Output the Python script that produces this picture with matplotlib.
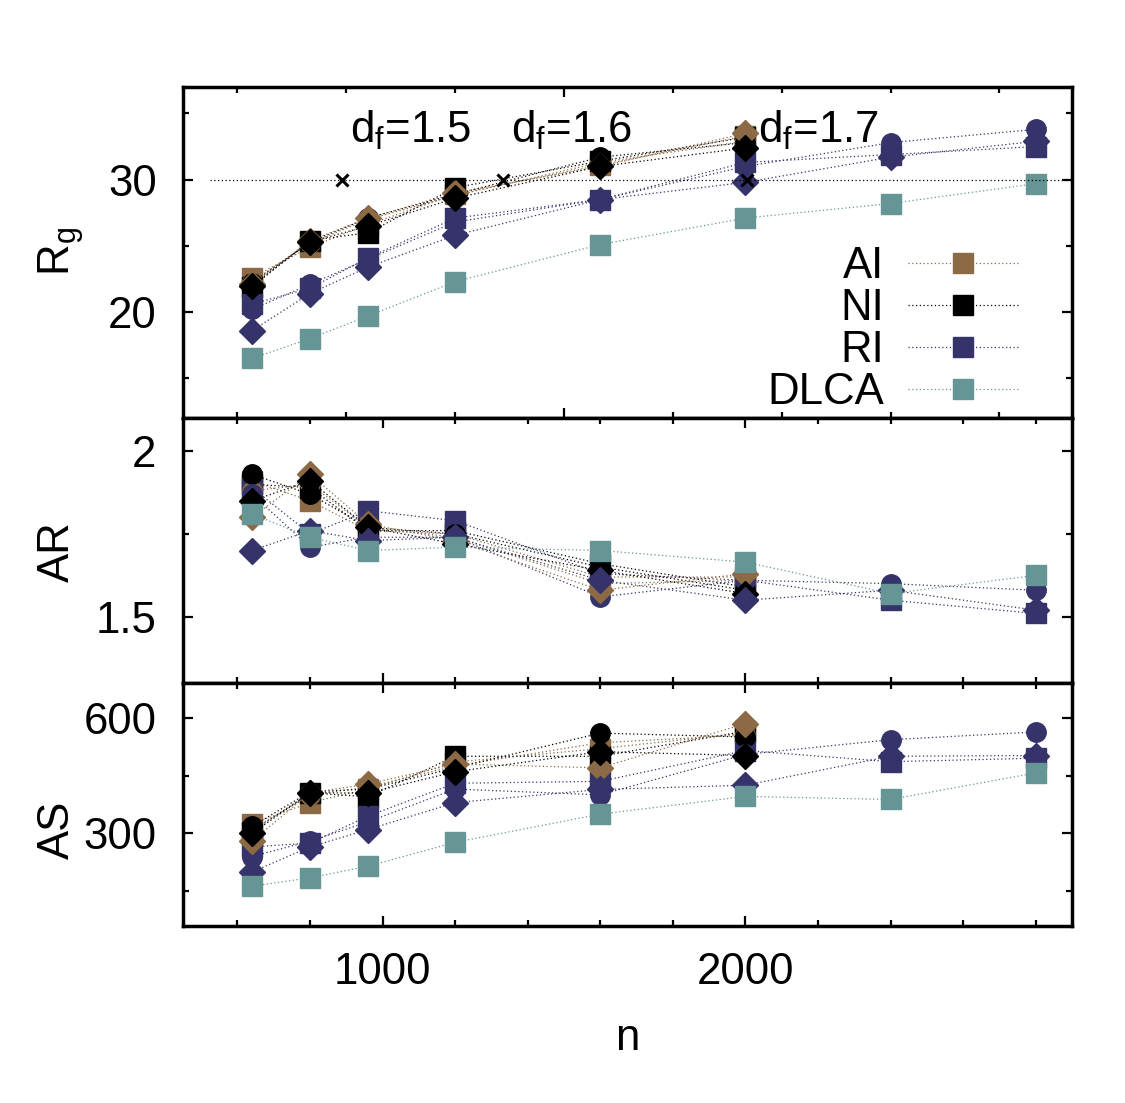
import matplotlib.pyplot as plt
import numpy as np

plt.rcParams['font.family'] = ['Liberation Sans', 'DejaVu Sans']
plt.rcParams['mathtext.fontset'] = 'custom'
plt.rcParams['mathtext.rm'] = 'Liberation Sans'
plt.rcParams['mathtext.default'] = 'regular'

# particle numbers
n_all = [640, 800, 960, 1200, 1600, 2000, 2400, 2800]
n_short = [640, 800, 960, 1200, 1600, 2000]

# radius of gyration
rg_ai_s = [22.6, 24.9, 26.6, 28.9, 31.1, 33.3]
rg_ai_o = [22.3, 25.2, 27.0, 28.8, 31.3, 32.9]
rg_ai_d = [22.1, 25.4, 27.1, 29.0, 31.0, 33.5]
rg_ni_s = [21.9, 25.4, 26.0, 29.4, 31.4, 33.2]
rg_ni_o = [22.2, 25.3, 27.1, 28.9, 31.7, 32.8]
rg_ni_d = [22.0, 25.3, 26.5, 28.6, 31.0, 32.4]
rg_ri_s = [20.6, 21.8, 24.1, 27.1, 28.5, 31.3, 31.9, 32.5]
rg_ri_o = [20.2, 22.1, 24.0, 26.8, 28.5, 31.0, 32.8, 33.8]
rg_ri_d = [18.6, 21.4, 23.4, 25.8, 28.5, 29.8, 31.7, 32.9]
rg_dlca = [16.5, 18.0, 19.7, 22.3, 25.1, 27.1, 28.2, 29.7]

# aspect ratio
ar_ai_s = [1.91, 1.85, 1.76, 1.75, 1.62, 1.62]
ar_ai_o = [1.88, 1.90, 1.77, 1.74, 1.60, 1.61]
ar_ai_d = [1.80, 1.93, 1.78, 1.73, 1.58, 1.63]
ar_ni_s = [1.90, 1.89, 1.76, 1.76, 1.66, 1.59]
ar_ni_o = [1.93, 1.87, 1.77, 1.75, 1.65, 1.58]
ar_ni_d = [1.85, 1.91, 1.77, 1.72, 1.64, 1.57]
ar_ri_s = [1.89, 1.75, 1.82, 1.79, 1.63, 1.61, 1.55, 1.51]
ar_ri_o = [1.87, 1.71, 1.74, 1.74, 1.56, 1.61, 1.60, 1.58]
ar_ri_d = [1.70, 1.76, 1.73, 1.74, 1.61, 1.55, 1.58, 1.52]
ar_dlca = [1.81, 1.74, 1.70, 1.71, 1.70, 1.665, 1.57, 1.625]

# AS
as_ai_s = [325, 380, 415, 485, 520, 560]
as_ai_o = [310, 400, 420, 475, 535, 555]
as_ai_d = [280, 405, 428, 480, 470, 585]
as_ni_s = [305, 405, 395, 500, 500, 565]
as_ni_o = [318, 408, 415, 470, 560, 550]
as_ni_d = [300, 405, 405, 460, 512, 502]
as_ri_s = [265, 275, 345, 430, 435, 515, 486, 495]
as_ri_o = [240, 280, 330, 415, 400, 505, 543, 563]
as_ri_d = [200, 265, 310, 380, 414, 425, 500, 502]
as_dlca = [163, 185, 215, 277, 350, 396, 388, 457]

# d_f reference crossings at Rg = 30
df_n = [887, 1333, 2005]
df_labels = ['1.5', '1.6', '1.7']
df_text_x = [910, 1353, 2034]

c_ai = '#8b6a45'
c_ni = '#000000'
c_ri = '#35336a'
c_dlca = '#659695'

fs = 31.5
W, H = 1125, 1103
fig = plt.figure(figsize=(W / 100, H / 100), dpi=100)

left, right = 183 / W, 1072 / W
ax1 = fig.add_axes([left, 1 - 418 / H, right - left, (418 - 87) / H])
ax2 = fig.add_axes([left, 1 - 683 / H, right - left, (683 - 418) / H])
ax3 = fig.add_axes([left, 1 - 926 / H, right - left, (926 - 683) / H])

ls = (0, (1, 2))
msz = {'s': 14, 'o': 14, 'D': 13}


def draw(ax, ai, ni, ri, dlca, legend=False):
    sets = [
        ('s', [(n_short, ai[0], c_ai, 'AI'), (n_short, ni[0], c_ni, 'NI'), (n_all, ri[0], c_ri, 'RI')]),
        ('o', [(n_short, ai[1], c_ai, None), (n_short, ni[1], c_ni, None), (n_all, ri[1], c_ri, None)]),
        ('D', [(n_short, ai[2], c_ai, None), (n_short, ni[2], c_ni, None), (n_all, ri[2], c_ri, None)]),
    ]
    for m, group in sets:
        for x, y, c, lab in group:
            ax.plot(x, y, linestyle=ls, lw=0.9, color=c, marker=m, ms=msz[m],
                    mec=c, label=lab if legend else None)
    ax.plot(n_all, dlca, linestyle=ls, lw=0.9, color=c_dlca, marker='s', ms=14,
            mec=c_dlca, label='DLCA' if legend else None)


draw(ax1, (rg_ai_s, rg_ai_o, rg_ai_d), (rg_ni_s, rg_ni_o, rg_ni_d),
     (rg_ri_s, rg_ri_o, rg_ri_d), rg_dlca, legend=True)
draw(ax2, (ar_ai_s, ar_ai_o, ar_ai_d), (ar_ni_s, ar_ni_o, ar_ni_d),
     (ar_ri_s, ar_ri_o, ar_ri_d), ar_dlca)
draw(ax3, (as_ai_s, as_ai_o, as_ai_d), (as_ni_s, as_ni_o, as_ni_d),
     (as_ri_s, as_ri_o, as_ri_d), as_dlca)

# reference line and d_f markers
ax1.plot([525, 2900], [30, 30], linestyle=ls, lw=0.9, color='black')
ax1.plot(df_n, [30] * 3, linestyle='none', marker='x', ms=9, mew=2.2, color='black')
for tx, lab in zip(df_text_x, df_labels):
    ax1.text(tx, 32.8, 'd$_f$=' + lab, fontsize=fs, ha='left', va='baseline')

ax1.set_ylim(12, 37)
ax2.set_ylim(1.3, 2.1)
ax3.set_ylim(60, 690)

for ax in (ax1, ax2, ax3):
    ax.set_xlim(450, 2900)
    for s in ax.spines.values():
        s.set_linewidth(2.5)
    ax.tick_params(which='both', direction='in', top=True, right=True,
                   labelsize=fs, width=1.6)
    ax.tick_params(which='major', length=7, pad=19)
    ax.tick_params(which='minor', length=4.5)

ax1.set_xticks([1500])
ax1.set_xticks(np.arange(600, 2800, 300), minor=True)
ax1.set_yticks([20, 30])
ax1.set_yticks([15, 25, 35], minor=True)
ax1.tick_params(labelbottom=False)

ax2.set_xticks([1000, 2000])
ax2.set_xticks(np.arange(600, 2900, 200), minor=True)
ax2.set_yticks([1.5, 2.0])
ax2.set_yticklabels(['1.5', '2'])
ax2.set_yticks([1.75], minor=True)
ax2.tick_params(labelbottom=False)

ax3.set_xticks([1000, 2000])
ax3.set_xticks(np.arange(600, 2900, 200), minor=True)
ax3.set_yticks([300, 600])
ax3.set_yticks([150, 450], minor=True)

fig.text(61 / W, 1 - 252 / H, 'R$_g$', fontsize=fs, rotation=90, ha='center', va='center')
fig.text(57 / W, 1 - 552 / H, 'AR', fontsize=fs, rotation=90, ha='center', va='center')
fig.text(57 / W, 1 - 830 / H, 'AS', fontsize=fs, rotation=90, ha='center', va='center')
fig.text(627 / W, 1 - 1038 / H, 'n', fontsize=fs, ha='center', va='center')

ax1.legend(loc='lower right', bbox_to_anchor=(0.939, 0.015), frameon=False,
           fontsize=fs, markerfirst=False, numpoints=1, handlelength=2.5,
           handletextpad=0.55, labelspacing=0.02, borderpad=0, borderaxespad=0)

fig.savefig('out.png', dpi=100)
